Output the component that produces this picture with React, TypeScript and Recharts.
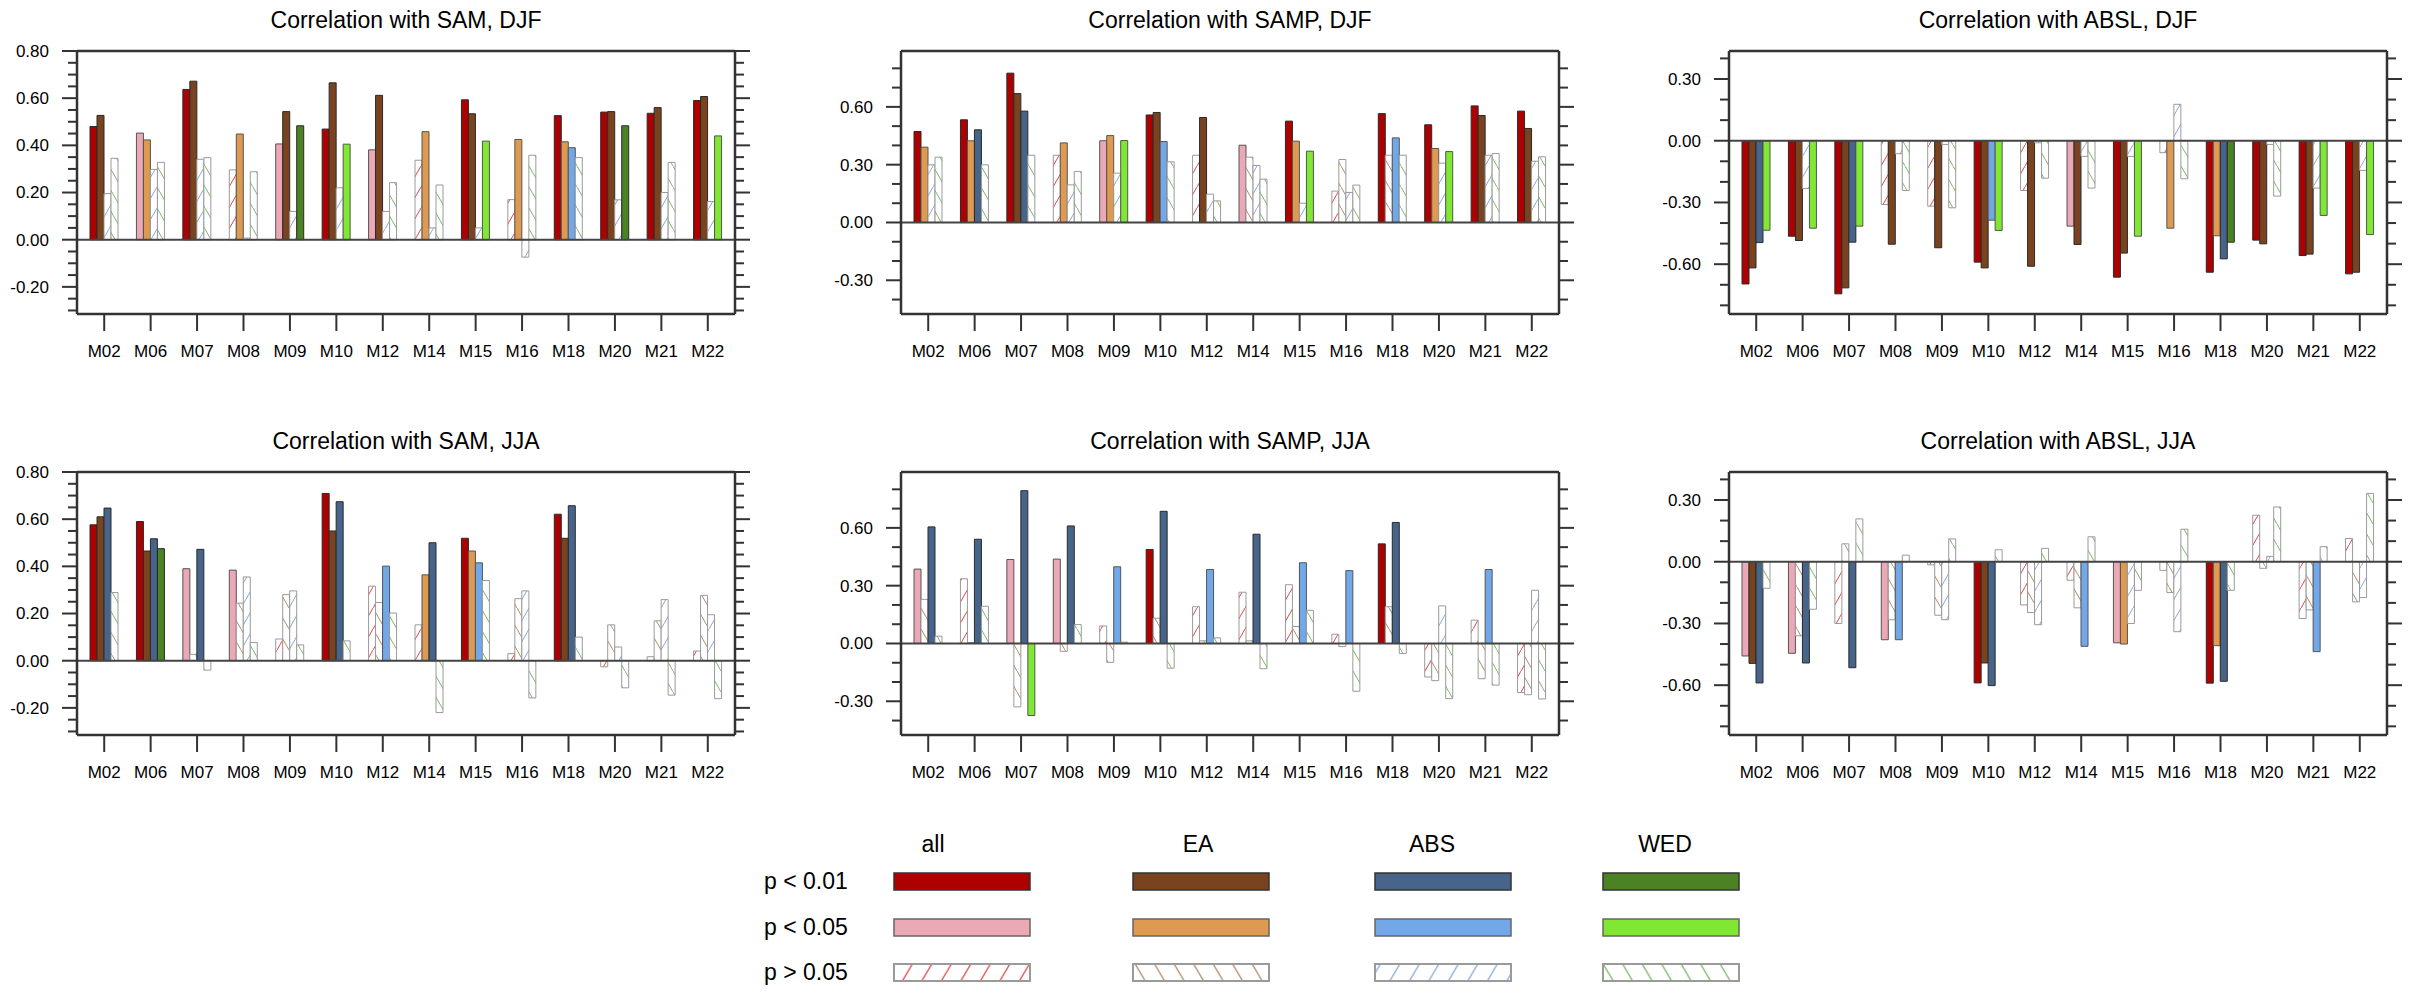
import React from "react";
import {
  BarChart,
  Bar,
  Cell,
  XAxis,
  YAxis,
  ReferenceLine,
} from "recharts";

// model names on the x axis
const MODELS = ["M02", "M06", "M07", "M08", "M09", "M10", "M12", "M14", "M15", "M16", "M18", "M20", "M21", "M22"];

// significance codes: 1 = p < 0.01, 2 = p < 0.05, 0 = p > 0.05

// SAM, DJF
const samDjfAll = [0.48, 0.452, 0.637, 0.296, 0.406, 0.469, 0.381, 0.337, 0.593, 0.17, 0.526, 0.541, 0.536, 0.59];
const samDjfEa = [0.527, 0.423, 0.672, 0.448, 0.543, 0.665, 0.612, 0.458, 0.534, 0.425, 0.415, 0.543, 0.56, 0.607];
const samDjfAbs = [0.196, 0.298, 0.341, 0.007, 0.12, 0.22, 0.12, 0.05, 0.05, -0.074, 0.39, 0.169, 0.2, 0.162];
const samDjfWed = [0.345, 0.328, 0.348, 0.288, 0.483, 0.405, 0.242, 0.232, 0.418, 0.358, 0.348, 0.483, 0.328, 0.44];
const samDjfSigAll = [1, 2, 1, 0, 2, 1, 2, 0, 1, 0, 1, 1, 1, 1];
const samDjfSigEa = [1, 2, 1, 2, 1, 1, 1, 2, 1, 2, 2, 1, 1, 1];
const samDjfSigAbs = [0, 0, 0, 0, 0, 0, 0, 0, 0, 0, 2, 0, 0, 0];
const samDjfSigWed = [0, 0, 0, 0, 1, 2, 0, 0, 2, 0, 0, 1, 0, 2];

// SAMP, DJF
const sampDjfAll = [0.472, 0.533, 0.775, 0.349, 0.424, 0.558, 0.349, 0.401, 0.526, 0.163, 0.565, 0.507, 0.605, 0.578];
const sampDjfEa = [0.391, 0.424, 0.669, 0.413, 0.451, 0.571, 0.545, 0.339, 0.422, 0.327, 0.349, 0.384, 0.555, 0.488];
const sampDjfAbs = [0.299, 0.481, 0.578, 0.195, 0.256, 0.42, 0.147, 0.296, 0.1, 0.156, 0.439, 0.308, 0.349, 0.318];
const sampDjfWed = [0.339, 0.299, 0.349, 0.265, 0.425, 0.315, 0.112, 0.225, 0.37, 0.194, 0.349, 0.368, 0.358, 0.341];
const sampDjfSigAll = [1, 1, 1, 0, 2, 1, 0, 2, 1, 0, 1, 1, 1, 1];
const sampDjfSigEa = [2, 2, 1, 2, 2, 1, 1, 0, 2, 0, 0, 2, 1, 1];
const sampDjfSigAbs = [0, 1, 1, 0, 0, 2, 0, 0, 0, 0, 2, 0, 0, 0];
const sampDjfSigWed = [0, 0, 0, 0, 2, 0, 0, 0, 2, 0, 0, 2, 0, 0];

// ABSL, DJF
const abslDjfAll = [-0.696, -0.464, -0.744, -0.31, -0.318, -0.59, -0.242, -0.415, -0.663, -0.058, -0.639, -0.483, -0.558, -0.647];
const abslDjfEa = [-0.618, -0.485, -0.715, -0.503, -0.52, -0.618, -0.61, -0.504, -0.546, -0.425, -0.462, -0.501, -0.551, -0.639];
const abslDjfAbs = [-0.495, -0.232, -0.493, -0.063, -0.018, -0.386, -0.01, -0.076, -0.076, 0.177, -0.574, -0.018, -0.23, -0.144];
const abslDjfWed = [-0.435, -0.425, -0.415, -0.242, -0.326, -0.436, -0.182, -0.23, -0.464, -0.185, -0.493, -0.269, -0.363, -0.456];
const abslDjfSigAll = [1, 1, 1, 0, 0, 1, 0, 2, 1, 0, 1, 1, 1, 1];
const abslDjfSigEa = [1, 1, 1, 1, 1, 1, 1, 1, 1, 2, 2, 1, 1, 1];
const abslDjfSigAbs = [1, 0, 1, 0, 0, 2, 0, 0, 0, 0, 1, 0, 0, 0];
const abslDjfSigWed = [2, 2, 2, 0, 0, 2, 0, 0, 2, 0, 1, 0, 2, 2];

// SAM, JJA
const samJjaAll = [0.576, 0.59, 0.39, 0.384, 0.092, 0.709, 0.316, 0.152, 0.519, 0.03, 0.621, -0.026, 0.017, 0.041];
const samJjaEa = [0.61, 0.465, 0.027, 0.244, 0.28, 0.55, 0.247, 0.364, 0.465, 0.263, 0.519, 0.152, 0.169, 0.277];
const samJjaAbs = [0.647, 0.517, 0.472, 0.355, 0.296, 0.674, 0.401, 0.5, 0.415, 0.296, 0.657, 0.058, 0.259, 0.195];
const samJjaWed = [0.289, 0.475, -0.04, 0.077, 0.067, 0.084, 0.202, -0.22, 0.34, -0.158, 0.1, -0.115, -0.146, -0.161];
const samJjaSigAll = [1, 1, 2, 2, 0, 1, 0, 0, 1, 0, 1, 0, 0, 0];
const samJjaSigEa = [1, 1, 0, 0, 0, 1, 0, 2, 2, 0, 1, 0, 0, 0];
const samJjaSigAbs = [1, 1, 1, 0, 0, 1, 2, 1, 2, 0, 1, 0, 0, 0];
const samJjaSigWed = [0, 1, 0, 0, 0, 0, 0, 0, 0, 0, 0, 0, 0, 0];

// SAMP, JJA
const sampJjaAll = [0.386, 0.336, 0.436, 0.438, 0.091, 0.488, 0.191, 0.266, 0.305, 0.048, 0.517, -0.174, 0.121, -0.255];
const sampJjaEa = [0.229, 0.005, -0.329, -0.041, -0.098, 0.131, 0.014, 0.014, 0.088, -0.016, 0.191, -0.193, -0.183, -0.266];
const sampJjaAbs = [0.605, 0.541, 0.793, 0.61, 0.398, 0.686, 0.384, 0.567, 0.419, 0.378, 0.628, 0.195, 0.384, 0.276];
const sampJjaWed = [0.038, 0.193, -0.374, 0.098, 0.007, -0.128, 0.029, -0.131, 0.172, -0.248, -0.052, -0.286, -0.216, -0.288];
const sampJjaSigAll = [2, 0, 2, 2, 0, 1, 0, 0, 0, 0, 1, 0, 0, 0];
const sampJjaSigEa = [0, 0, 0, 0, 0, 0, 0, 0, 0, 0, 0, 0, 0, 0];
const sampJjaSigAbs = [1, 1, 1, 1, 2, 1, 2, 1, 2, 2, 1, 0, 2, 0];
const sampJjaSigWed = [0, 0, 2, 0, 0, 0, 0, 0, 0, 0, 0, 0, 0, 0];

// ABSL, JJA
const abslJjaAll = [-0.458, -0.445, -0.3, -0.379, -0.015, -0.589, -0.21, -0.09, -0.394, -0.042, -0.59, 0.226, -0.276, 0.113];
const abslJjaEa = [-0.494, -0.36, 0.087, -0.282, -0.26, -0.492, -0.247, -0.224, -0.4, -0.15, -0.408, -0.032, -0.234, -0.195];
const abslJjaAbs = [-0.589, -0.492, -0.515, -0.379, -0.282, -0.602, -0.306, -0.411, -0.3, -0.34, -0.581, 0.026, -0.437, -0.174];
const abslJjaWed = [-0.129, -0.231, 0.208, 0.032, 0.111, 0.058, 0.065, 0.121, -0.139, 0.158, -0.139, 0.266, 0.073, 0.332];
const abslJjaSigAll = [2, 2, 0, 2, 0, 1, 0, 0, 2, 0, 1, 0, 0, 0];
const abslJjaSigEa = [1, 0, 0, 0, 0, 1, 0, 0, 2, 0, 2, 0, 0, 0];
const abslJjaSigAbs = [1, 1, 1, 2, 0, 1, 0, 2, 0, 0, 1, 0, 2, 0];
const abslJjaSigWed = [0, 0, 0, 0, 0, 0, 0, 0, 0, 0, 0, 0, 0, 0];

// y axis ticks
const samMajor = [-0.2, 0, 0.2, 0.4, 0.6, 0.8];
const samMinor = [-0.3, -0.25, -0.15, -0.1, -0.05, 0.05, 0.1, 0.15, 0.25, 0.3, 0.35, 0.45, 0.5, 0.55, 0.65, 0.7, 0.75];
const sampMajor = [-0.3, 0, 0.3, 0.6];
const sampMinor = [-0.4, -0.2, -0.1, 0.1, 0.2, 0.4, 0.5, 0.7, 0.8];
const abslMajor = [-0.6, -0.3, 0, 0.3];
const abslMinor = [-0.8, -0.7, -0.5, -0.4, -0.2, -0.1, 0.1, 0.2, 0.4];

const samDomain: [number, number] = [-0.315, 0.8];
const sampDomain: [number, number] = [-0.475, 0.89];
const abslDomain: [number, number] = [-0.842, 0.436];

const GROUPS = [
  { key: "all", label: "all", dark: "#AD0000", light: "#EBA8B6", hatch: "#E04848", slash: true },
  { key: "ea", label: "EA", dark: "#7A431F", light: "#DD9A50", hatch: "#B08A6A", slash: false },
  { key: "abs", label: "ABS", dark: "#47648A", light: "#72A8E8", hatch: "#88A8DA", slash: true },
  { key: "wed", label: "WED", dark: "#4B8223", light: "#80E832", hatch: "#78B868", slash: false },
];

const FONT = "'Liberation Sans', Arial, Helvetica, sans-serif";
const FRAME = "#333333";

const PLOT_W = 658;
const PLOT_H = 263;
const COL_X = [77, 901, 1729];
const ROW_Y = [51, 472];
const M = { top: 10, right: 30, bottom: 55, left: 75 };

interface PanelDef {
  title: string;
  col: number;
  row: number;
  series: number[][];
  sig: number[][];
  domain: [number, number];
  major: number[];
  minor: number[];
}

const PANELS: PanelDef[] = [
  { title: "Correlation with SAM, DJF", col: 0, row: 0, series: [samDjfAll, samDjfEa, samDjfAbs, samDjfWed], sig: [samDjfSigAll, samDjfSigEa, samDjfSigAbs, samDjfSigWed], domain: samDomain, major: samMajor, minor: samMinor },
  { title: "Correlation with SAMP, DJF", col: 1, row: 0, series: [sampDjfAll, sampDjfEa, sampDjfAbs, sampDjfWed], sig: [sampDjfSigAll, sampDjfSigEa, sampDjfSigAbs, sampDjfSigWed], domain: sampDomain, major: sampMajor, minor: sampMinor },
  { title: "Correlation with ABSL, DJF", col: 2, row: 0, series: [abslDjfAll, abslDjfEa, abslDjfAbs, abslDjfWed], sig: [abslDjfSigAll, abslDjfSigEa, abslDjfSigAbs, abslDjfSigWed], domain: abslDomain, major: abslMajor, minor: abslMinor },
  { title: "Correlation with SAM, JJA", col: 0, row: 1, series: [samJjaAll, samJjaEa, samJjaAbs, samJjaWed], sig: [samJjaSigAll, samJjaSigEa, samJjaSigAbs, samJjaSigWed], domain: samDomain, major: samMajor, minor: samMinor },
  { title: "Correlation with SAMP, JJA", col: 1, row: 1, series: [sampJjaAll, sampJjaEa, sampJjaAbs, sampJjaWed], sig: [sampJjaSigAll, sampJjaSigEa, sampJjaSigAbs, sampJjaSigWed], domain: sampDomain, major: sampMajor, minor: sampMinor },
  { title: "Correlation with ABSL, JJA", col: 2, row: 1, series: [abslJjaAll, abslJjaEa, abslJjaAbs, abslJjaWed], sig: [abslJjaSigAll, abslJjaSigEa, abslJjaSigAbs, abslJjaSigWed], domain: abslDomain, major: abslMajor, minor: abslMinor },
];

const fillFor = (g: number, s: number) => {
  const grp = GROUPS[g];
  if (s === 1) return grp.dark;
  if (s === 2) return grp.light;
  return `url(#hatch-${grp.key})`;
};
const strokeFor = (s: number) => (s === 1 ? "#2a2a2a" : s === 2 ? "#555555" : "#9a9a9a");

const Panel = ({ p }: { p: PanelDef }) => {
  const data = MODELS.map((m, i) => ({
    model: m,
    all: p.series[0][i],
    ea: p.series[1][i],
    abs: p.series[2][i],
    wed: p.series[3][i],
  }));
  const ticks = [...p.major, ...p.minor].sort((a, b) => a - b);
  const isMajor = (v: number) => p.major.some((m) => Math.abs(m - v) < 1e-9);

  const leftEdge = M.left + 1;
  const rightEdge = M.left + 1 + PLOT_W;
  const bottomEdge = M.top + 1 + PLOT_H;
  const chartW = M.left + 1 + PLOT_W + 1 + M.right;
  const chartH = M.top + 1 + PLOT_H + 1 + M.bottom;

  const LeftTick = (props: any) => {
    const { y, payload } = props;
    const v = payload.value as number;
    const major = isMajor(v);
    return (
      <g>
        <line x1={leftEdge} x2={leftEdge - (major ? 15 : 9)} y1={y} y2={y} stroke={FRAME} strokeWidth={2} />
        {major && (
          <text x={leftEdge - 28} y={y} dy="0.35em" textAnchor="end" fontSize={17} fontFamily={FONT} fill="#000">
            {v.toFixed(2)}
          </text>
        )}
      </g>
    );
  };
  const RightTick = (props: any) => {
    const { y, payload } = props;
    const major = isMajor(payload.value as number);
    return (
      <line x1={rightEdge} x2={rightEdge + (major ? 15 : 9)} y1={y} y2={y} stroke={FRAME} strokeWidth={2} />
    );
  };
  const BottomTick = (props: any) => {
    const { x, payload } = props;
    return (
      <text x={x} y={bottomEdge + 43} textAnchor="middle" fontSize={17} fontFamily={FONT} fill="#000">
        {payload.value}
      </text>
    );
  };

  return (
    <div
      style={{
        position: "absolute",
        left: COL_X[p.col] - M.left - 1,
        top: ROW_Y[p.row] - M.top - 1,
        width: chartW,
        height: chartH,
      }}
    >
      <BarChart width={chartW} height={chartH} data={data} margin={M} barGap={0}>
        <XAxis
          dataKey="model"
          height={1}
          interval={0}
          padding={{ left: 4, right: 4 }}
          tickSize={17}
          tickLine={{ stroke: FRAME, strokeWidth: 2 }}
          axisLine={{ stroke: FRAME, strokeWidth: 2.5 }}
          tick={BottomTick}
        />
        <XAxis
          xAxisId="top"
          dataKey="model"
          orientation="top"
          height={1}
          tick={false}
          tickLine={false}
          axisLine={{ stroke: FRAME, strokeWidth: 2.5 }}
        />
        <YAxis
          type="number"
          width={1}
          domain={p.domain}
          allowDataOverflow
          ticks={ticks}
          interval={0}
          tickLine={false}
          axisLine={{ stroke: FRAME, strokeWidth: 2.5 }}
          tick={LeftTick}
        />
        <YAxis
          yAxisId="r"
          orientation="right"
          type="number"
          width={1}
          domain={p.domain}
          allowDataOverflow
          ticks={ticks}
          interval={0}
          tickLine={false}
          axisLine={{ stroke: FRAME, strokeWidth: 2.5 }}
          tick={RightTick}
        />
        {GROUPS.map((g, gi) => (
          <Bar key={g.key} dataKey={g.key} barSize={7} isAnimationActive={false}>
            {data.map((_, i) => (
              <Cell key={i} fill={fillFor(gi, p.sig[gi][i])} stroke={strokeFor(p.sig[gi][i])} strokeWidth={1} />
            ))}
          </Bar>
        ))}
        <ReferenceLine y={0} stroke="#444444" strokeWidth={2} />
      </BarChart>
    </div>
  );
};

// legend layout
const LEGEND_BOX_X = [894, 1133, 1375, 1603];
const LEGEND_HEAD_X = [933, 1198, 1432, 1665];
const LEGEND_ROW_Y = [873, 919, 964];
const LEGEND_ROWS = ["p < 0.01", "p < 0.05", "p > 0.05"];

const Legend = () => (
  <g fontFamily={FONT} fontSize={23} fill="#000">
    {GROUPS.map((g, i) => (
      <text key={g.key} x={LEGEND_HEAD_X[i]} y={852} textAnchor="middle">
        {g.label}
      </text>
    ))}
    {LEGEND_ROWS.map((r, j) => (
      <text key={r} x={764} y={LEGEND_ROW_Y[j] + 16}>
        {r}
      </text>
    ))}
    {GROUPS.map((g, i) =>
      LEGEND_ROWS.map((_, j) => (
        <rect
          key={`${g.key}-${j}`}
          x={LEGEND_BOX_X[i]}
          y={LEGEND_ROW_Y[j]}
          width={136}
          height={17}
          fill={j === 0 ? g.dark : j === 1 ? g.light : `url(#lhatch-${g.key})`}
          stroke={j === 0 ? "#333" : j === 1 ? "#666" : "#9a9a9a"}
          strokeWidth={j === 2 ? 2 : 1.5}
        />
      ))
    )}
  </g>
);

const App = () => (
  <div style={{ position: "relative", width: 2416, height: 994, background: "#fff", overflow: "hidden" }}>
    <style>{"body{margin:0;background:#fff}"}</style>
    <svg width={2416} height={994} style={{ position: "absolute", left: 0, top: 0 }}>
      <defs>
        {GROUPS.map((g) => (
          <pattern key={g.key} id={`hatch-${g.key}`} patternUnits="userSpaceOnUse" width={12} height={21}>
            <rect width={12} height={21} fill="#fff" />
            <line x1={0} y1={g.slash ? 21 : 0} x2={12} y2={g.slash ? 0 : 21} stroke={g.hatch} strokeWidth={1} />
          </pattern>
        ))}
        {GROUPS.map((g) => (
          <pattern key={`l${g.key}`} id={`lhatch-${g.key}`} patternUnits="userSpaceOnUse" width={19.5} height={33}>
            <rect width={19.5} height={33} fill="#fff" />
            <line x1={0} y1={g.slash ? 33 : 0} x2={19.5} y2={g.slash ? 0 : 33} stroke={g.hatch} strokeWidth={1.3} />
          </pattern>
        ))}
      </defs>
      {PANELS.map((p) => (
        <text
          key={p.title}
          x={COL_X[p.col] + PLOT_W / 2}
          y={ROW_Y[p.row] - 23}
          textAnchor="middle"
          fontFamily={FONT}
          fontSize={23}
          fill="#000"
        >
          {p.title}
        </text>
      ))}
      <Legend />
    </svg>
    {PANELS.map((p) => (
      <Panel key={p.title} p={p} />
    ))}
  </div>
);

export default App;
